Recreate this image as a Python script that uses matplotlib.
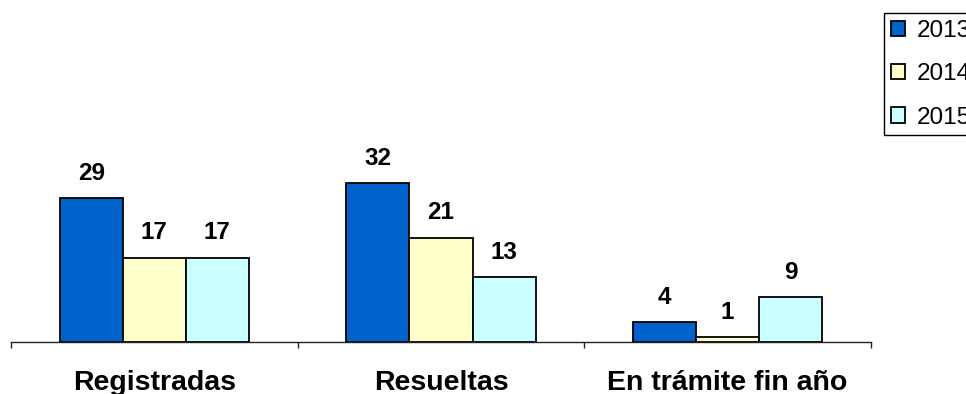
import matplotlib
matplotlib.use("Agg")
import matplotlib.pyplot as plt
import numpy as np

categories = ["Registradas", "Resueltas", "En trámite fin año"]
years = ["2013", "2014", "2015"]
v2013 = [29, 32, 4]
v2014 = [17, 21, 1]
v2015 = [17, 13, 9]
colors = ["#0063CC", "#FFFFCC", "#CCFFFF"]

plt.rcParams['font.family'] = ['Liberation Sans', 'DejaVu Sans']

fig = plt.figure(figsize=(9.66, 3.94), dpi=100)
ax = fig.add_axes([11/966, 52/394, 860/966, 242/394])

x = np.arange(len(categories))
w = 0.22
series = [v2013, v2014, v2015]
for i, (vals, lab, c) in enumerate(zip(series, years, colors)):
    bars = ax.bar(x + (i - 1) * w, vals, width=w, color=c, edgecolor='black',
                  linewidth=1.3, label=lab)
    for b, v in zip(bars, vals):
        ax.annotate(str(v), (b.get_x() + b.get_width() / 2, b.get_height()),
                    xytext=(0, 9.5), textcoords='offset points',
                    ha='center', va='bottom', fontsize=17.5, fontweight='bold')

ax.set_xlim(-0.5, 2.5)
ax.set_ylim(0, 48.7)
for s in ['top', 'right', 'left']:
    ax.spines[s].set_visible(False)
ax.spines['bottom'].set_color('#222222')
ax.spines['bottom'].set_linewidth(1.0)
ax.set_yticks([])
ax.set_xticks([-0.5, 0.5, 1.5, 2.5])
ax.set_xticklabels([])
ax.set_xticks(x, minor=True)
ax.set_xticklabels(categories, minor=True, fontsize=20.5, fontweight='bold')
ax.tick_params(axis='x', which='major', length=4.5, width=1.0, color='#222222', direction='out')
ax.tick_params(axis='x', which='minor', length=0, pad=20)

fig.legend(loc='upper left', bbox_to_anchor=(884/966, 1 - 13/394),
           fontsize=17.5, frameon=True, fancybox=False, edgecolor='black',
           framealpha=1, borderpad=0.28, labelspacing=0.88,
           handlelength=0.6, handleheight=0.6, handletextpad=0.45,
           borderaxespad=0)
leg = fig.legends[0]
leg.get_frame().set_linewidth(1.0)

fig.savefig("out.png", dpi=100)
